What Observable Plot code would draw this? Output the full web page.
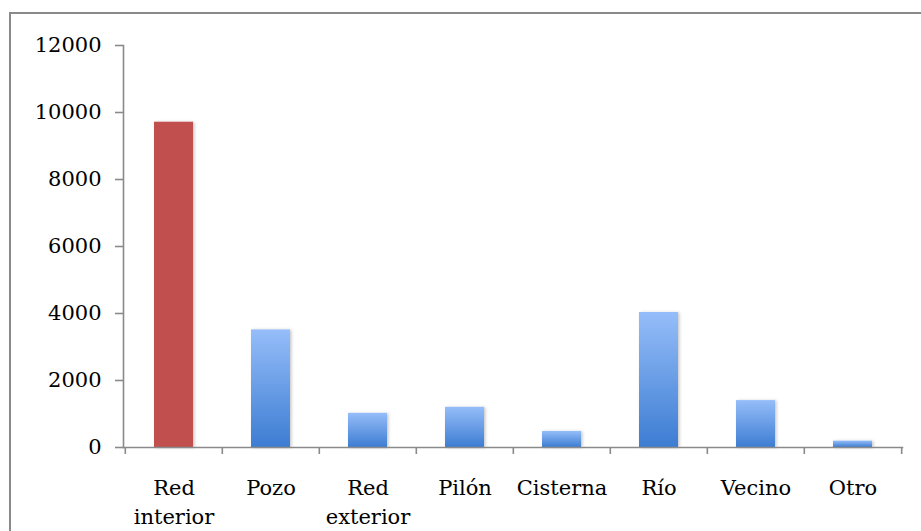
<!DOCTYPE html>
<html>
<head>
<meta charset="utf-8">
<script src="https://cdn.jsdelivr.net/npm/d3@7"></script>
<script src="https://cdn.jsdelivr.net/npm/@observablehq/plot@0.6"></script>
<style>
  html, body { margin: 0; padding: 0; background: #fff; overflow: hidden; }
  #wrap { position: relative; width: 921px; height: 531px; overflow: hidden; }
  #frame {
    position: absolute; left: 9px; top: 12px; width: 912px; height: 519px;
    border-left: 2px solid #8a8a8a; border-top: 2px solid #8a8a8a;
    box-sizing: border-box; pointer-events: none;
  }
  svg { font-family: "DejaVu Serif", serif; }
</style>
</head>
<body>
<div id="wrap"><div id="frame"></div></div>
<script>
// Water source per household
const categories = ["Red interior", "Pozo", "Red exterior", "Pilón", "Cisterna", "Río", "Vecino", "Otro"];
const values = [9710, 3510, 1020, 1200, 480, 4030, 1400, 190];
const highlighted = "Red interior";
const yTicks = [0, 2000, 4000, 6000, 8000, 10000, 12000];
const xLabels = ["Red\ninterior", "Pozo", "Red\nexterior", "Pilón", "Cisterna", "Río", "Vecino", "Otro"];

const rows = categories.map((c, i) => ({category: c, value: values[i], label: xLabels[i]}));
const labelOf = new Map(rows.map(d => [d.category, d.label]));

const width = 921, height = 531;
const marginLeft = 123, marginRight = 19;
const step = (width - marginLeft - marginRight) / categories.length;
const axisColor = "#8a8a8a";

const chart = Plot.plot({
  width, height,
  marginLeft, marginRight, marginTop: 45, marginBottom: 84,
  style: {fontFamily: "'DejaVu Serif', serif", fontSize: "21px", color: "#000", background: "transparent"},
  x: {domain: categories, paddingInner: 0.6, paddingOuter: 0.3, axis: null},
  y: {domain: [0, 12000], axis: null},
  marks: [
    Plot.barY(rows, {
      x: "category", y: "value",
      fill: d => d.category === highlighted ? "#c0504d" : "url(#blueBar)"
    }),
    Plot.frame({anchor: "left", stroke: axisColor, strokeWidth: 1.6}),
    Plot.frame({anchor: "bottom", stroke: axisColor, strokeWidth: 1.6}),
    // y axis ticks and labels
    Plot.axisY({ticks: yTicks, tickSize: 8, tickPadding: 14, stroke: axisColor, strokeWidth: 1.6, fill: "#000", label: null, fontSize: 21, tickFormat: d => String(d)}),
    // x axis boundary ticks between categories
    Plot.axisX({tickSize: 7, text: null, label: null, stroke: axisColor, strokeWidth: 1.6, dx: -step / 2}),
    Plot.axisX({ticks: [categories[categories.length - 1]], tickSize: 7, text: null, label: null, stroke: axisColor, strokeWidth: 1.6, dx: step / 2}),
    // x axis category labels
    Plot.axisX({tickSize: 0, tickPadding: 27, label: null, fontSize: 21, fill: "#000", lineHeight: 1.38, tickFormat: c => labelOf.get(c)})
  ]
});

// Vertical gradient and soft shadow for the bars
const ns = "http://www.w3.org/2000/svg";
const defs = document.createElementNS(ns, "defs");
defs.innerHTML = `
  <linearGradient id="blueBar" x1="0" y1="0" x2="0" y2="1">
    <stop offset="0" stop-color="#95bdf9"/>
    <stop offset="1" stop-color="#3d7dd2"/>
  </linearGradient>
  <filter id="barShadow" x="-20%" y="-5%" width="150%" height="115%">
    <feDropShadow dx="1.5" dy="0.5" stdDeviation="1.5" flood-color="#000" flood-opacity="0.22"/>
  </filter>`;
chart.insertBefore(defs, chart.firstChild);
const barGroup = chart.querySelector("g[aria-label='bar']");
if (barGroup) barGroup.setAttribute("filter", "url(#barShadow)");

chart.style.position = "absolute";
chart.style.left = "0";
chart.style.top = "0";
document.getElementById("wrap").insertBefore(chart, document.getElementById("frame"));
</script>
</body>
</html>
